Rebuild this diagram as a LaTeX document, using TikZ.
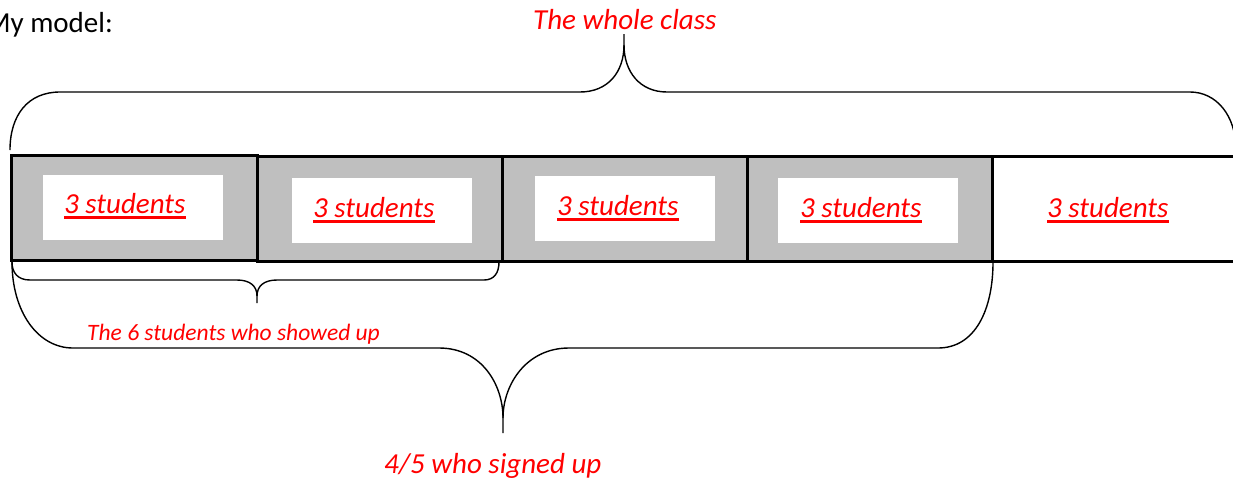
\documentclass[tikz,border=0pt]{standalone}
\usepackage{fontspec}
\setmainfont{Carlito}
\definecolor{barfill}{RGB}{191,191,191}
\begin{document}
\begin{tikzpicture}[x=1pt,y=-1pt,
  cell/.style={draw=black, line width=2.8pt, fill=barfill, minimum height=105pt, inner sep=0pt, anchor=north west},
  inbox/.style={fill=white, inner sep=0pt, minimum width=180pt, minimum height=65pt, anchor=north west},
  lab/.style={text=red, font=\fontsize{29}{34}\selectfont\itshape, inner sep=0pt, anchor=base west},
  smalllab/.style={text=red, font=\fontsize{23.5}{28}\selectfont\itshape, inner sep=0pt, anchor=base west},
  ul/.style={red, line width=2.2pt},
  brace/.style={black, line width=1.4pt}]
\useasboundingbox[fill=white] (0,0) rectangle (1233,480);

% title
\node[font=\fontsize{29}{34}\selectfont, inner sep=0pt, anchor=base east] (title) at (113,32) {My model:};

% cells
\node[cell, minimum width=246pt] (c1) at (10,154) {};
\node[cell, minimum width=245pt] (c2) at (256,155) {};
\node[cell, minimum width=245pt] (c3) at (501,155) {};
\node[cell, minimum width=245pt] (c4) at (746,155) {};
\node[cell, minimum width=250pt, fill=white] (c5) at (991,155) {};

% inner white boxes
\node[inbox] (b1) at (43,175) {};
\node[inbox] (b2) at (292,178) {};
\node[inbox] (b3) at (535,176) {};
\node[inbox] (b4) at (778,178) {};

% labels
\node[lab] (t1) at (64,213) {3 students};
\node[lab] (t2) at (313,217) {3 students};
\node[lab] (t3) at (557,215) {3 students};
\node[lab] (t4) at (800,217) {3 students};
\node[lab] (t5) at (1047,217) {3 students};
\foreach \t in {t1,t2,t3,t4,t5}
  \draw[ul] ([yshift=-4.5pt]\t.base west) -- ([yshift=-4.5pt]\t.base east);

\node[lab] (whole) at (533,29) {The whole class};
\node[smalllab] (six) at (87,340) {The 6 students who showed up};
\node[lab] (four) at (384,473) {4/5 who signed up};

% top brace
\coordinate (topL) at (10,150);
\coordinate (topTip) at (624,34);
\coordinate (topR) at (1236,150);
\draw[brace] (topL) .. controls (10,115) and (28,92) .. (60,92) -- (580,92)
  .. controls (608,92) and (624,72) .. (624,45) -- (topTip);
\draw[brace] (624,45) .. controls (624,72) and (640,92) .. (667,92) -- (1190,92)
  .. controls (1216,92) and (1236,115) .. (topR);

% small bottom brace
\coordinate (sL) at (12,262);
\coordinate (sTip) at (257,303);
\coordinate (sR) at (499,262);
\draw[brace] (sL) .. controls (12,273) and (18,280) .. (30,280) -- (237,280)
  .. controls (250,280) and (257,286) .. (257,296) -- (sTip);
\draw[brace] (257,296) .. controls (257,286) and (264,280) .. (277,280) -- (484,280)
  .. controls (494,280) and (499,273) .. (sR);

% large bottom brace
\coordinate (lL) at (12,262);
\coordinate (lTip) at (503,433);
\coordinate (lR) at (993,262);
\draw[brace] (lL) .. controls (12,312) and (38,348) .. (73,348) -- (439,348)
  .. controls (482,348) and (503,385) .. (503,418) -- (lTip);
\draw[brace] (503,418) .. controls (503,385) and (526,348) .. (569,348) -- (938,348)
  .. controls (975,348) and (993,310) .. (lR);
\end{tikzpicture}
\end{document}
